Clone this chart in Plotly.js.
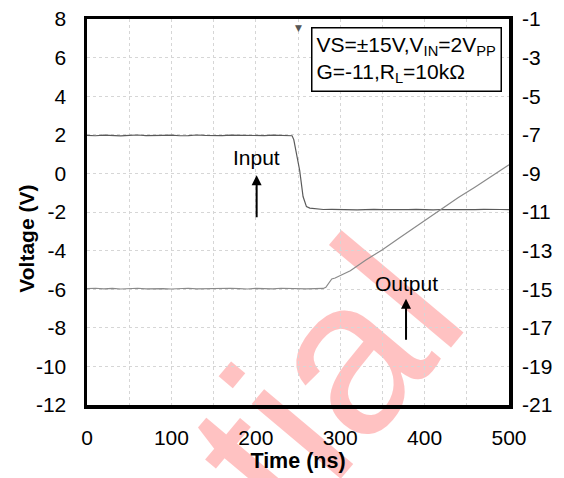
<!DOCTYPE html>
<html>
<head>
<meta charset="utf-8">
<script src="https://cdn.plot.ly/plotly-3.0.1.min.js"></script>
<style>html,body{margin:0;padding:0;background:#fff;}#chart{width:564px;height:478px;}</style>
</head>
<body>
<div id="chart"></div>
<script>
// Input trace (left axis, V)
const inputTime = [0,10,20,30,40,50,60,70,80,90,100,110,120,130,140,150,160,170,180,190,200,210,220,230,240,
  243,245,248,252,256,260,264,270,280,290,
  300,310,320,330,340,350,360,370,380,390,400,410,420,430,440,450,460,470,480,490,500];
const inputVolt = [1.97,1.95,1.98,1.96,1.94,1.97,1.99,1.96,1.95,1.97,1.98,1.95,1.96,1.99,1.97,1.95,1.96,1.98,1.97,1.95,1.97,1.96,1.98,1.97,1.96,
  1.95,1.75,1.05,0.15,-1.2,-1.72,-1.8,-1.84,-1.87,-1.86,
  -1.88,-1.87,-1.89,-1.88,-1.86,-1.88,-1.89,-1.87,-1.88,-1.86,-1.88,-1.89,-1.87,-1.88,-1.87,-1.89,-1.88,-1.86,-1.88,-1.87,-1.88];

// Output trace (right axis, V)
const outputTime = [0,10,20,30,40,50,60,70,80,90,100,110,120,130,140,150,160,170,180,190,200,210,220,230,240,250,260,270,280,
  283,287,290,294,300,312,330,350,370,390,418,440,460,480,500];
const outputVolt = [-14.97,-14.95,-14.98,-14.96,-14.99,-14.97,-14.95,-14.98,-14.96,-14.97,-14.99,-14.96,-14.95,-14.98,-14.97,-14.96,-14.98,-14.95,-14.97,-14.99,-14.96,-14.97,-14.98,-14.95,-14.97,-14.96,-14.98,-14.97,-14.96,
  -14.9,-14.65,-14.47,-14.42,-14.3,-14.04,-13.5,-12.95,-12.35,-11.75,-10.9,-10.25,-9.7,-9.12,-8.55];

const xTicks = [0,100,200,300,400,500];
const leftTicks = [8,6,4,2,0,-2,-4,-6,-8,-10,-12];
const rightTicks = [-1,-3,-5,-7,-9,-11,-13,-15,-17,-19,-21];

const FONT = 'Liberation Sans, Arial, sans-serif';

const traces = [
  {x: inputTime, y: inputVolt, type: 'scatter', mode: 'lines', name: 'Input',
   line: {color: '#5a5a5a', width: 1.2}, xaxis: 'x', yaxis: 'y', hoverinfo: 'skip'},
  {x: outputTime, y: outputVolt, type: 'scatter', mode: 'lines', name: 'Output',
   line: {color: '#8a8a8a', width: 1.2}, xaxis: 'x', yaxis: 'y2', hoverinfo: 'skip'}
];

const layout = {
  width: 564, height: 478,
  margin: {l: 87, r: 55, t: 19, b: 73},
  paper_bgcolor: '#ffffff', plot_bgcolor: '#ffffff',
  showlegend: false,
  font: {family: FONT, size: 21, color: '#000'},
  xaxis: {
    range: [0, 500], tickvals: xTicks, ticktext: xTicks.map(String),
    showgrid: true, gridcolor: '#d6d6d6', griddash: 'dot', gridwidth: 1,
    minor: {dtick: 50, tick0: 0, showgrid: true, gridcolor: '#d6d6d6', griddash: 'dot', gridwidth: 1},
    showline: true, linecolor: '#000', linewidth: 3.5, mirror: true,
    ticks: '', ticklabelstandoff: 11, zeroline: false,
    tickfont: {family: FONT, size: 21},
    title: {text: '<b>Time (ns)</b>', font: {family: FONT, size: 21.5}, standoff: 4}
  },
  yaxis: {
    range: [-12, 8], tickvals: leftTicks, ticktext: leftTicks.map(String),
    showgrid: true, gridcolor: '#d6d6d6', griddash: 'dot', gridwidth: 1,
    showline: true, linecolor: '#000', linewidth: 3.5, mirror: true,
    ticks: '', ticklabelstandoff: 13, zeroline: false,
    tickfont: {family: FONT, size: 21}
  },
  yaxis2: {
    range: [-21, -1], overlaying: 'y', side: 'right',
    tickvals: rightTicks, ticktext: rightTicks.map(String),
    showgrid: false, zeroline: false, showline: false,
    ticks: '', ticklabelstandoff: 12,
    tickfont: {family: FONT, size: 21}
  },
  shapes: [
    {type: 'rect', xref: 'paper', yref: 'paper', x0: 0.324, x1: 0.724, y0: -0.101, y1: 0.299,
     line: {width: 0}, fillcolor: 'rgba(0,0,0,0)', layer: 'below',
     label: {text: 'tial', textangle: -50, textposition: 'middle center',
             font: {family: FONT, size: 220, color: '#ffc2c2'}}}
  ],
  annotations: [
    {xref: 'paper', yref: 'paper', x: -0.142, y: 0.431, xanchor: 'center', yanchor: 'middle',
     text: '<b>Voltage (V)</b>', textangle: -90, showarrow: false,
     font: {family: FONT, size: 21, color: '#000'}},
    {xref: 'paper', yref: 'paper', x: 0.983, y: 0.978, xanchor: 'right', yanchor: 'top',
     text: 'VS=±15V,V<sub>IN</sub>=2V<sub>PP</sub><br>G=-11,R<sub>L</sub>=10kΩ',
     align: 'left', showarrow: false, bgcolor: '#fff', bordercolor: '#000', borderwidth: 1.5, borderpad: 4,
     font: {family: FONT, size: 21, color: '#000'}},
    {xref: 'x', yref: 'y', x: 201, y: 0.85, text: 'Input', showarrow: false,
     font: {family: FONT, size: 21, color: '#000'}},
    {xref: 'x', yref: 'y', x: 201, y: -0.1, ax: 201, ay: -2.35, axref: 'x', ayref: 'y',
     text: '', showarrow: true, arrowhead: 2, arrowsize: 1, arrowwidth: 2, arrowcolor: '#000'},
    {xref: 'x', yref: 'y', x: 378, y: -5.7, text: 'Output', showarrow: false,
     font: {family: FONT, size: 21, color: '#000'}},
    {xref: 'x', yref: 'y', x: 378, y: -6.5, ax: 378, ay: -8.7, axref: 'x', ayref: 'y',
     text: '', showarrow: true, arrowhead: 2, arrowsize: 1, arrowwidth: 2, arrowcolor: '#000'},
    {xref: 'x', yref: 'paper', x: 251, y: 0.995, yanchor: 'top', text: '▼', showarrow: false,
     font: {family: 'DejaVu Sans', size: 9, color: '#555'}}
  ]
};

Plotly.newPlot('chart', traces, layout, {staticPlot: true, displayModeBar: false});
</script>
</body>
</html>
